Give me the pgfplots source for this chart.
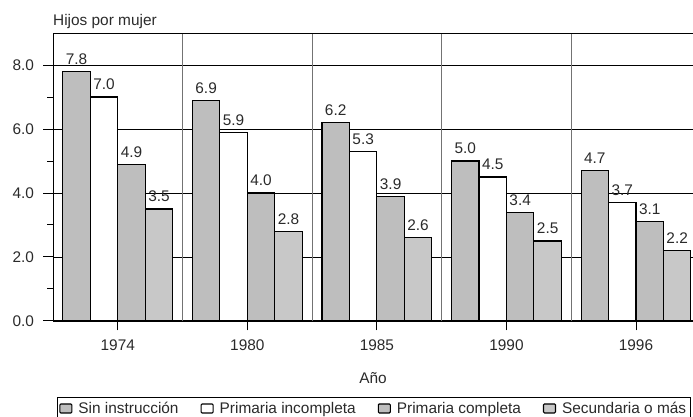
\documentclass[border=0pt]{standalone}
\usepackage{fontspec}
\setmainfont{Liberation Sans}
\usepackage{pgfplots}
\pgfplotsset{compat=1.18}

\definecolor{barA}{HTML}{BEBEBE}
\definecolor{barD}{HTML}{C8C8C8}
\definecolor{txt}{HTML}{2A2A2A}

\begin{document}
\begin{tikzpicture}
\path[use as bounding box] (0,0) rectangle (693pt,417pt);
\begin{axis}[
    name=ax,
    at={(53pt,96pt)}, anchor=south west,
    scale only axis,
    width=640pt, height=288pt,
    ybar=0pt,
    bar width=0.212,
    xmin=-0.5, xmax=4.44,
    ymin=0, ymax=9,
    axis x line*=bottom,
    axis y line*=left,
    axis line style={black, line width=1pt},
    xtick={0,1,2,3,4},
    xticklabels={1974,1980,1985,1990,1996},
    ytick={0,2,4,6,8},
    minor y tick num=1,
    tick align=outside,
    tick style={black, line width=1pt},
    major tick length=9.5pt,
    minor tick length=5.5pt,
    ymajorgrids,
    major grid style={black, line width=0.8pt},
    extra x ticks={0.5,1.5,2.5,3.5},
    extra x tick labels={},
    extra x tick style={grid=major, major tick length=0pt,
        major grid style={black!55, line width=1.1pt}},
    extra y ticks={9},
    extra y tick labels={},
    extra y tick style={grid=major, major tick length=0pt},
    font=\fontsize{15.4}{17}\selectfont,
    tick label style={text=txt},
    yticklabel style={xshift=-6pt,
        /pgf/number format/fixed, /pgf/number format/fixed zerofill,
        /pgf/number format/precision=1, /pgf/number format/assume math mode=true},
    xticklabel style={yshift=-6pt, /pgf/number format/assume math mode=true},
    xlabel={Año},
    xlabel style={text=txt, yshift=-5pt},
    nodes near coords,
    every node near coord/.append style={text=txt, yshift=3pt,
        /pgf/number format/fixed, /pgf/number format/fixed zerofill,
        /pgf/number format/precision=1, /pgf/number format/assume math mode=true},
    legend columns=4,
    legend style={at={(axis description cs:0.006,-0.264)}, anchor=north west,
        draw=black, line width=1pt, text=txt,
        font=\fontsize{15.4}{17}\selectfont,
        inner xsep=2pt, inner ysep=3pt,
        /tikz/every odd column/.append style={column sep=4pt},
        /tikz/every even column/.append style={column sep=20pt}},
    legend image code/.code={
        \draw[#1, line width=1.1pt, rounded corners=1pt] (0pt,-4pt) rectangle (12pt,5pt);
    },
]
\addplot[draw=black, fill=barA, line width=1.1pt] coordinates {(0,7.8) (1,6.9) (2,6.2) (3,5.0) (4,4.7)};
\addlegendentry{Sin instrucción}
\addplot[draw=black, fill=white, line width=1.1pt] coordinates {(0,7.0) (1,5.9) (2,5.3) (3,4.5) (4,3.7)};
\addlegendentry{Primaria incompleta}
\addplot[draw=black, fill=barA, line width=1.1pt] coordinates {(0,4.9) (1,4.0) (2,3.9) (3,3.4) (4,3.1)};
\addlegendentry{Primaria completa}
\addplot[draw=black, fill=barD, line width=1.1pt] coordinates {(0,3.5) (1,2.8) (2,2.6) (3,2.5) (4,2.2)};
\addlegendentry{Secundaria o más}
\end{axis}
\node[anchor=base west, text=txt, font=\fontsize{15.4}{17}\selectfont, inner sep=0pt]
    at (ax.north west) [yshift=8pt] {Hijos por mujer};
\end{tikzpicture}
\end{document}
